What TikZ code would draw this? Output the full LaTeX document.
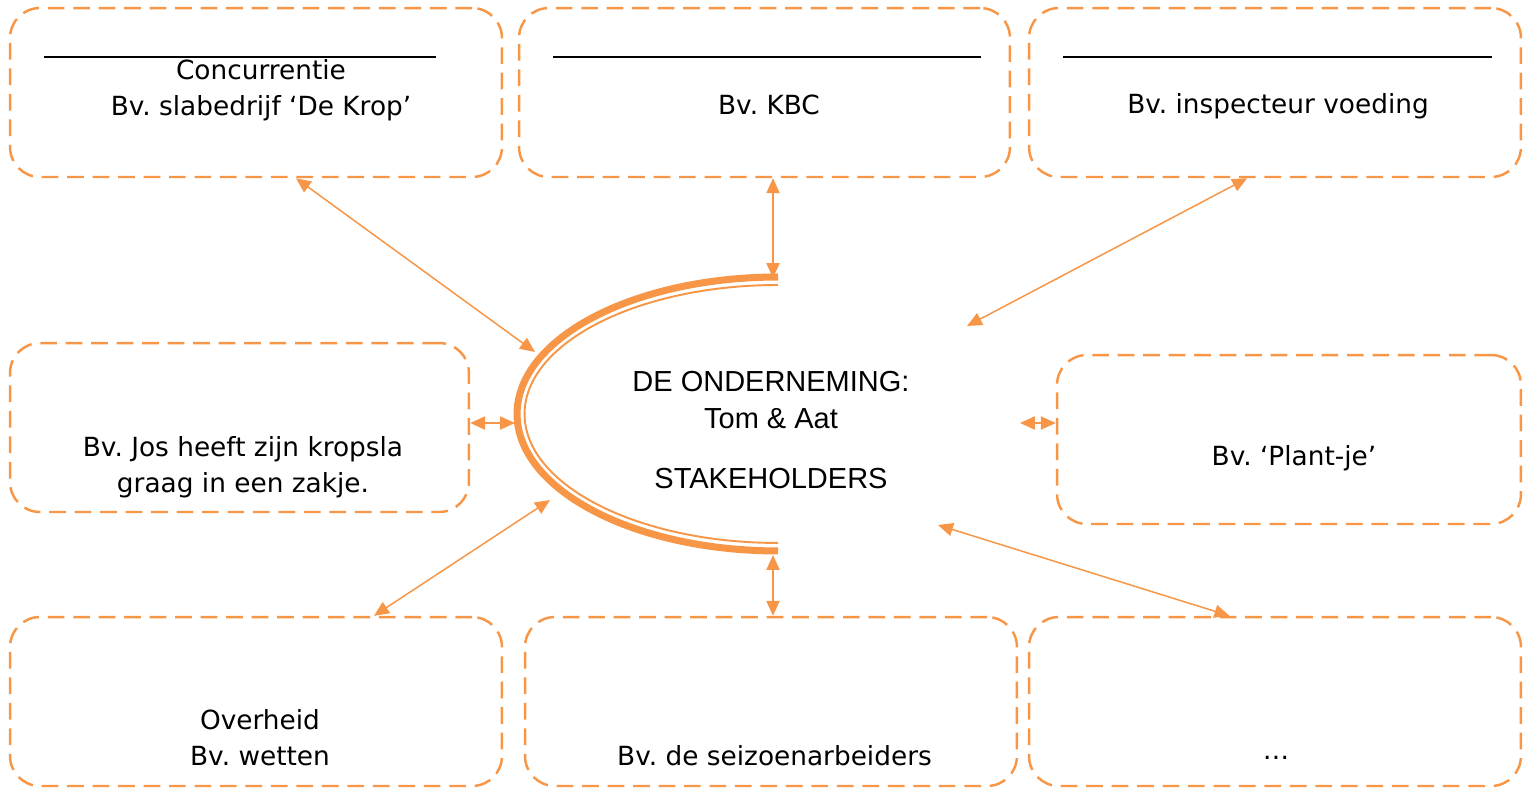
\documentclass[tikz,border=0pt]{standalone}
\usepackage{fontspec}
\setmainfont{DejaVu Sans}
\newfontfamily\arialfont{Liberation Sans}
\usetikzlibrary{arrows.meta}
\definecolor{oranje}{HTML}{F79646}
\frenchspacing
\tikzset{
  kader/.style={draw=oranje, line width=1.4pt, dash pattern=on 9.5pt off 5pt, rounded corners=17pt, minimum height=3.38cm},
  tekst/.style={align=center, font=\fontsize{15}{20.4}\selectfont},
  pijl/.style={draw=oranje, line width=0.85pt, {Triangle[length=8.5pt,width=7.5pt]}-{Triangle[length=8.5pt,width=7.5pt]}},
}
\begin{document}
\begin{tikzpicture}[x=0.02cm,y=0.02cm]
            \useasboundingbox (0,0) rectangle (1526,-799);
            % kaders
            \node[kader, minimum width=9.84cm, anchor=center] (a) at (256,-92.5) {};
            \node[kader, minimum width=9.82cm, anchor=center] (b) at (764.5,-92.5) {};
            \node[kader, minimum width=9.84cm, anchor=center] (c) at (1275,-92.5) {};
            \node[kader, minimum width=9.18cm, anchor=center] (d) at (239.5,-427.5) {};
            \node[kader, minimum width=9.28cm, anchor=center] (e) at (1289,-439.5) {};
            \node[kader, minimum width=9.84cm, anchor=center] (f) at (256,-701.5) {};
            \node[kader, minimum width=9.84cm, anchor=center] (g) at (771,-701.5) {};
            \node[kader, minimum width=9.84cm, anchor=center] (h) at (1275,-701.5) {};
            % lijnen
            \draw[line width=0.8pt] (44,-57) -- (436,-57);
            \draw[line width=0.8pt] (553,-57) -- (981,-57);
            \draw[line width=0.8pt] (1063,-57) -- (1492,-57);
            % teksten
            \node[tekst, anchor=center] (ta) at (261,-90) {Concurrentie\\Bv. slabedrijf ‘De Krop’};
            \node[tekst, anchor=center] (tb) at (769,-105) {Bv. KBC};
            \node[tekst, anchor=center] (tc) at (1278,-106) {Bv. inspecteur voeding};
            \node[tekst, anchor=center] (td) at (243,-467) {Bv. Jos heeft zijn kropsla\\graag in een zakje.};
            \node[tekst, anchor=center] (te) at (1294,-458) {Bv. ‘Plant-je’};
            \node[tekst, anchor=center] (tf) at (260,-738) {Overheid\\Bv. wetten};
            \node[tekst, anchor=center] (tg) at (774.5,-756) {Bv. de seizoenarbeiders};
            \node[tekst, anchor=center] (th) at (1276,-758) {…};
            % onderneming
            \draw[oranje, line width=4pt] (778,-277) arc[start angle=90, end angle=270, x radius=5.22cm, y radius=2.74cm];
            \draw[oranje, line width=1.1pt] (778,-285) arc[start angle=90, end angle=270, x radius=5.07cm, y radius=2.58cm];
            \node[align=center, font=\arialfont\fontsize{16.5}{21}\selectfont] (m) at (771,-430) {DE ONDERNEMING:\\Tom \& Aat\\[13.6pt]STAKEHOLDERS};
            % pijlen
            \coordinate (k1) at (535,-352);
            \coordinate (k2) at (773,-278);
            \coordinate (k3) at (967,-326);
            \coordinate (k4) at (515,-423);
            \coordinate (k5) at (1020,-423);
            \coordinate (k6) at (550,-500);
            \coordinate (k7) at (773,-555);
            \coordinate (k8) at (938,-525);
            \draw[pijl] (a.-65) -- (k1);
            \draw[pijl] (b.south -| k2) -- (k2);
            \draw[pijl] (c.-108) -- (k3);
            \draw[pijl] (d.east |- k4) -- (k4);
            \draw[pijl] (k5) -- (e.west |- k5);
            \draw[pijl] (f.36) -- (k6);
            \draw[pijl] (k7) -- (g.north -| k7);
            \draw[pijl] (k8) -- (h.118);
        \end{tikzpicture}
\end{document}
